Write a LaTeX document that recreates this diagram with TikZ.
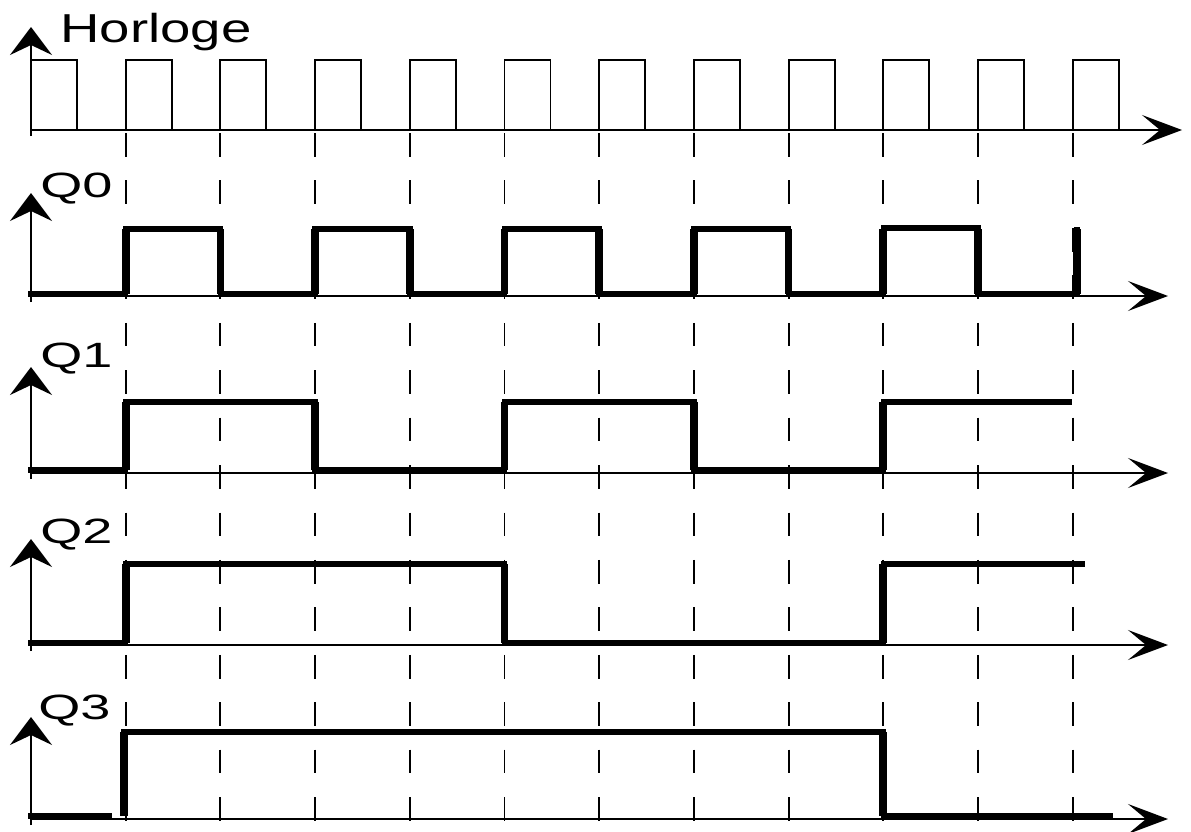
\documentclass[tikz,border=0pt]{standalone}
\usepackage{fontspec}
\setmainfont{Liberation Sans}
\usetikzlibrary{arrows.meta}
\begin{document}
\begin{tikzpicture}[x=0.02cm,y=-0.02cm,
  thinline/.style={line width=1.1pt},
  haxis/.style={line width=1.1pt,-{Stealth[length=0.8cm,width=0.6cm,inset=0.36cm]}},
  vaxis/.style={line width=1.1pt,-{Stealth[length=0.56cm,width=0.84cm,inset=0.2cm]}},
  sig/.style={line width=3.1pt},
  edgeline/.style={line width=4.4pt},
  gridline/.style={line width=1.1pt,dash pattern=on 13.5pt off 13.5pt},
  lbl/.style={inner sep=0pt,anchor=base west,font=\fontsize{20}{24}\selectfont}]
\useasboundingbox (0,0) rectangle (1191,832);
% dashed grid
\foreach \k in {1,...,11}
  \draw[gridline] ({31+94.7*\k},133) -- ({31+94.7*\k},832);
% clock
\draw[vaxis] (31,136) -- (31,27);
\draw[haxis] (31,130) -- (1182,130);
\foreach \k in {0,...,11}
  \draw[thinline] ({31+94.7*\k},130) |- ({31+94.7*\k+46},60) -- ({31+94.7*\k+46},130);
\node[lbl,font=\fontsize{23}{27}\selectfont] (horloge) at (60,42) {\scalebox{1.35}[1]{Horloge}};
% axes Q
\draw[vaxis] (31,302) -- (31,193);
\draw[haxis] (31,296) -- (1168,296);
\draw[vaxis] (31,479) -- (31,367);
\draw[haxis] (31,473) -- (1168,473);
\draw[vaxis] (31,651) -- (31,539);
\draw[haxis] (31,645) -- (1168,645);
\draw[vaxis] (31,825) -- (31,717);
\draw[haxis] (31,819) -- (1168,819);
% labels
\node[lbl] (q0) at (40,197) {\scalebox{1.54}[1]{Q0}};
\node[lbl] (q1) at (40,367) {\scalebox{1.54}[1]{Q1}};
\node[lbl] (q2) at (40,543) {\scalebox{1.54}[1]{Q2}};
\node[lbl] (q3) at (38,719) {\scalebox{1.54}[1]{Q3}};
% Q0
\draw[sig] (28,294) -- (125.7,294) -- (125.7,229) -- (220.4,229) -- (220.4,294)
  -- (315.1,294) -- (315.1,229) -- (409.8,229) -- (409.8,294)
  -- (504.5,294) -- (504.5,229) -- (599.2,229) -- (599.2,294)
  -- (693.9,294) -- (693.9,229) -- (788.6,229) -- (788.6,294)
  -- (883.3,294) -- (883.3,228) -- (978,228) -- (978,294)
  -- (1077,294) -- (1077,227);
\foreach \x in {125.7,220.4,315.1,409.8,504.5,599.2,693.9,788.6,883.3,978,1077}
  \draw[edgeline] (\x,294) -- (\x,229);
% Q1
\draw[sig] (28,470) -- (125.7,470) -- (125.7,402) -- (315.1,402) -- (315.1,470)
  -- (504.5,470) -- (504.5,402) -- (693.9,402) -- (693.9,470)
  -- (883.3,470) -- (883.3,402) -- (1072,402);
\foreach \x in {125.7,315.1,504.5,693.9,883.3}
  \draw[edgeline] (\x,470) -- (\x,402);
% Q2
\draw[sig] (28,643) -- (125.7,643) -- (125.7,564) -- (504.5,564) -- (504.5,643)
  -- (883.3,643) -- (883.3,564) -- (1085,564);
\foreach \x in {125.7,504.5,883.3}
  \draw[edgeline] (\x,643) -- (\x,564);
% Q3
\draw[sig] (28,816) -- (112,816);
\draw[sig] (124,816) -- (124,732) -- (883.3,732) -- (883.3,816) -- (1113,816);
\foreach \x in {124,883.3}
  \draw[edgeline] (\x,816) -- (\x,732);
\end{tikzpicture}
\end{document}
